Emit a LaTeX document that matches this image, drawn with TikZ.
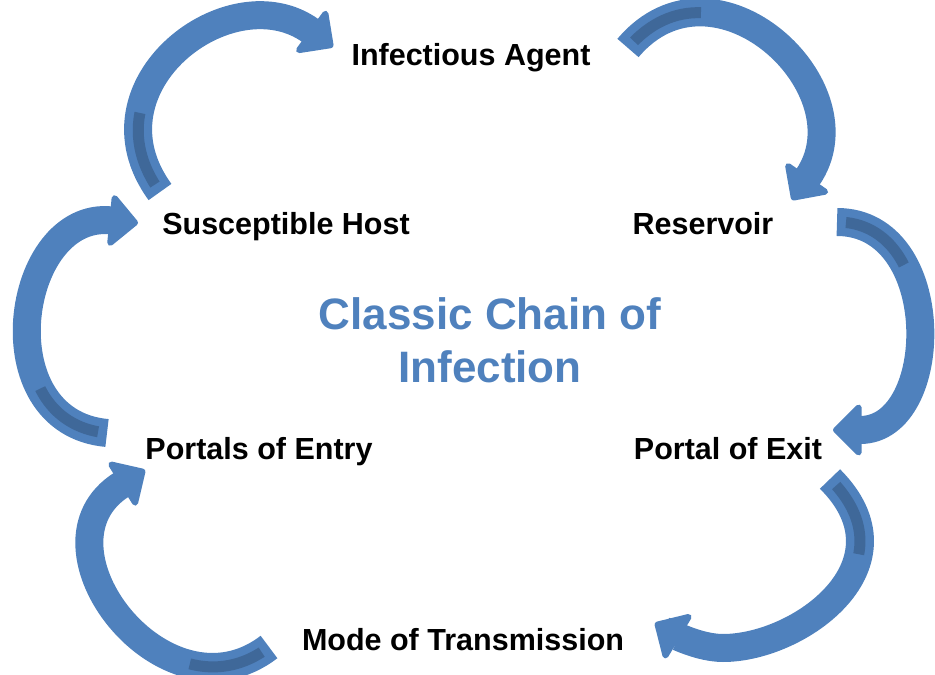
\documentclass[tikz,border=0pt]{standalone}
\usepackage{fontspec}
\setmainfont{Liberation Sans}
\usetikzlibrary{arrows.meta}
\definecolor{chainblue}{HTML}{4F81BD}
\definecolor{chainshade}{HTML}{3F6899}

\begin{document}
\begin{tikzpicture}[x=1pt, y=1pt,
    stage/.style={font=\bfseries\fontsize{30.5}{36}\selectfont, anchor=base},
    cyclearrow/.style={draw=chainblue, line width=28pt, line cap=butt,
        -{Triangle[width=58pt, length=30pt, line width=6pt, round]}},
    underside/.style={draw=chainshade, line width=11pt,
        dash pattern=on 0pt off 9pt on 75pt off 3000pt}]
    \useasboundingbox (0,0) rectangle (935,675);

    % the six links of the chain
    \node[stage] (agent) at (471,609) {Infectious Agent};
    \node[stage] (reservoir) at (703,440) {Reservoir};
    \node[stage] (exit) at (728,215) {Portal of Exit};
    \node[stage] (mode) at (463,24) {Mode of Transmission};
    \node[stage] (entry) at (259,215) {Portals of Entry};
    \node[stage] (host) at (286,440) {Susceptible Host};

    % title in the middle
    \node[font=\bfseries\fontsize{44}{53}\selectfont, text=chainblue, align=center] (title) at (490,335) {Classic Chain of\\Infection};

    % ends of the curved arrows
    \coordinate (t1) at (160,483); \coordinate (h1) at (333,628);
    \coordinate (t2) at (628,627); \coordinate (h2) at (792,475);
    \coordinate (t3) at (837,453); \coordinate (h3) at (833,245);
    \coordinate (t4) at (830,196); \coordinate (b4) at (723,27); \coordinate (h4) at (655,52);
    \coordinate (t5) at (269,28);  \coordinate (h5) at (145,205);
    \coordinate (t6) at (107,242); \coordinate (h6) at (138,452);

    % host -> agent
    \draw[cyclearrow] (t1) .. controls (82,590) and (231,702) .. (h1);
    \draw[underside] (t1) .. controls (82,590) and (231,702) .. (h1);
    % agent -> reservoir
    \draw[cyclearrow] (t2) .. controls (715,730) and (869,586) .. (h2);
    \draw[underside] (t2) .. controls (715,730) and (869,586) .. (h2);
    % reservoir -> exit
    \draw[cyclearrow] (t3) .. controls (946,453) and (942,245) .. (h3);
    \draw[underside] (t3) .. controls (946,453) and (942,245) .. (h3);
    % exit -> mode
    \draw[cyclearrow] (t4) .. controls (915,111) and (800,27) .. (b4) .. controls (700,27) and (675,40) .. (h4);
    \draw[underside] (t4) .. controls (915,111) and (800,27) .. (b4);
    % mode -> entry
    \draw[cyclearrow] (t5) .. controls (165,-52) and (25,130) .. (h5);
    \draw[underside] (t5) .. controls (165,-52) and (25,130) .. (h5);
    % entry -> host
    \draw[cyclearrow] (t6) .. controls (-15,253) and (15,464) .. (h6);
    \draw[underside] (t6) .. controls (-15,253) and (15,464) .. (h6);
\end{tikzpicture}
\end{document}
